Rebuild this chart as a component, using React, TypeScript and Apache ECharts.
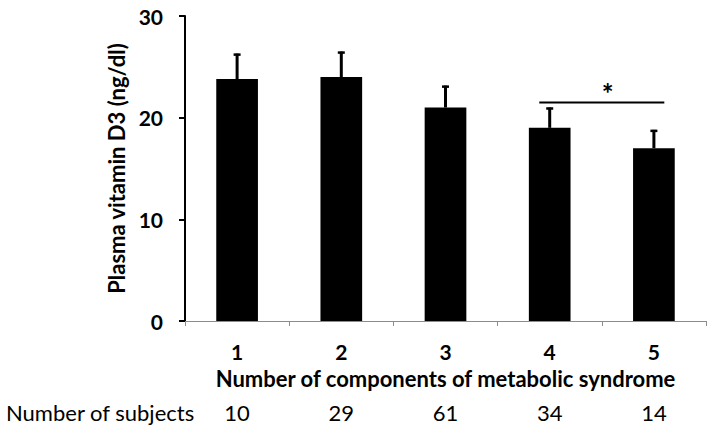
import React, { useEffect, useRef } from "react";
import * as echarts from "echarts";

const categories = ["1", "2", "3", "4", "5"];
const means = [23.8, 24.0, 21.0, 19.0, 17.0];
const errors = [2.5, 2.5, 2.15, 2.0, 1.8];
const subjects = ["10", "29", "61", "34", "14"];
const sigPair = [3, 4];
const sigLevel = 21.5;
const sigLabel = "*";

const FONT = "Lato";

export default function App() {
  const ref = useRef<HTMLDivElement>(null);
  useEffect(() => {
    if (!ref.current) return;
    const chart = echarts.init(ref.current, null, { renderer: "svg" });
    const errData = means.map((m, i) => [i, m, m + errors[i]]);
    chart.setOption({
      animation: false,
      backgroundColor: "#fff",
      textStyle: { fontFamily: FONT },
      grid: { left: 185, right: 8, top: 16, bottom: 111, outerBoundsMode: "none" },
      xAxis: [
        {
          type: "category",
          data: categories,
          position: "bottom",
          axisLine: { show: true, lineStyle: { color: "#8c8c8c", width: 1 } },
          axisTick: { show: true, length: 5, lineStyle: { color: "#8c8c8c" } },
          axisLabel: { fontFamily: FONT, fontWeight: "bold", fontSize: 21, color: "#000", margin: 20 },
          name: "Number of components of metabolic syndrome",
          nameLocation: "middle",
          nameGap: 46,
          nameTextStyle: { fontFamily: FONT, fontWeight: "bold", fontSize: 22, color: "#000" },
          splitLine: { show: false },
        },
        {
          type: "category",
          data: subjects,
          position: "bottom",
          offset: 73,
          axisLine: { show: false },
          axisTick: { show: false },
          axisLabel: { fontFamily: FONT, fontSize: 22, color: "#000", margin: 7 },
          splitLine: { show: false },
        },
      ],
      yAxis: {
        type: "value",
        min: 0,
        max: 30,
        interval: 10,
        axisLine: { show: true, lineStyle: { color: "#000", width: 2 } },
        axisTick: { show: true, length: 6, lineStyle: { color: "#000", width: 2 } },
        axisLabel: { fontFamily: FONT, fontWeight: "bold", fontSize: 21, color: "#000", margin: 22 },
        splitLine: { show: false },
        name: "Plasma vitamin D3 (ng/dl)",
        nameLocation: "middle",
        nameRotate: 90,
        nameGap: 49,
        nameTextStyle: { fontFamily: FONT, fontWeight: "bold", fontSize: 22, color: "#000" },
      },
      graphic: [
        {
          type: "text",
          left: 6,
          top: 401,
          style: { text: "Number of subjects", fontFamily: FONT, fontSize: 22, fill: "#000" },
        },
      ],
      series: [
        {
          type: "bar",
          data: means,
          barWidth: "40%",
          itemStyle: { color: "#000" },
          z: 2,
        },
        {
          type: "custom",
          data: errData,
          encode: { x: 0, y: 1 },
          z: 3,
          renderItem: (params: any, api: any) => {
            const p0 = api.coord([api.value(0), api.value(1)]);
            const p1 = api.coord([api.value(0), api.value(2)]);
            return {
              type: "group",
              children: [
                {
                  type: "line",
                  shape: { x1: p0[0], y1: p0[1], x2: p1[0], y2: p1[1] },
                  style: { stroke: "#000", lineWidth: 3 },
                },
                {
                  type: "line",
                  shape: { x1: p1[0] - 3.5, y1: p1[1] + 1, x2: p1[0] + 3.5, y2: p1[1] + 1 },
                  style: { stroke: "#000", lineWidth: 2.5 },
                },
              ],
            };
          },
        },
        {
          type: "custom",
          data: [[sigPair[0], sigLevel, sigPair[1]]],
          encode: { x: 0, y: 1 },
          z: 3,
          renderItem: (params: any, api: any) => {
            const a = api.coord([api.value(0), api.value(1)]);
            const b = api.coord([api.value(2), api.value(1)]);
            const bw = api.size([1, 0])[0];
            const x1 = a[0] - bw * 0.1;
            const x2 = b[0] + bw * 0.1;
            return {
              type: "group",
              children: [
                {
                  type: "line",
                  shape: { x1, y1: a[1], x2, y2: a[1] },
                  style: { stroke: "#000", lineWidth: 2 },
                },
                {
                  type: "text",
                  x: (x1 + x2) / 2 + 6,
                  y: a[1] - 9,
                  style: {
                    text: sigLabel,
                    fontFamily: FONT,
                    fontWeight: "bold",
                    fontSize: 28,
                    fill: "#000",
                    align: "center",
                    verticalAlign: "middle",
                  },
                },
              ],
            };
          },
        },
      ],
    });
    return () => chart.dispose();
  }, []);
  return <div ref={ref} style={{ position: "fixed", left: 0, top: 0, width: 714, height: 432 }} />;
}
